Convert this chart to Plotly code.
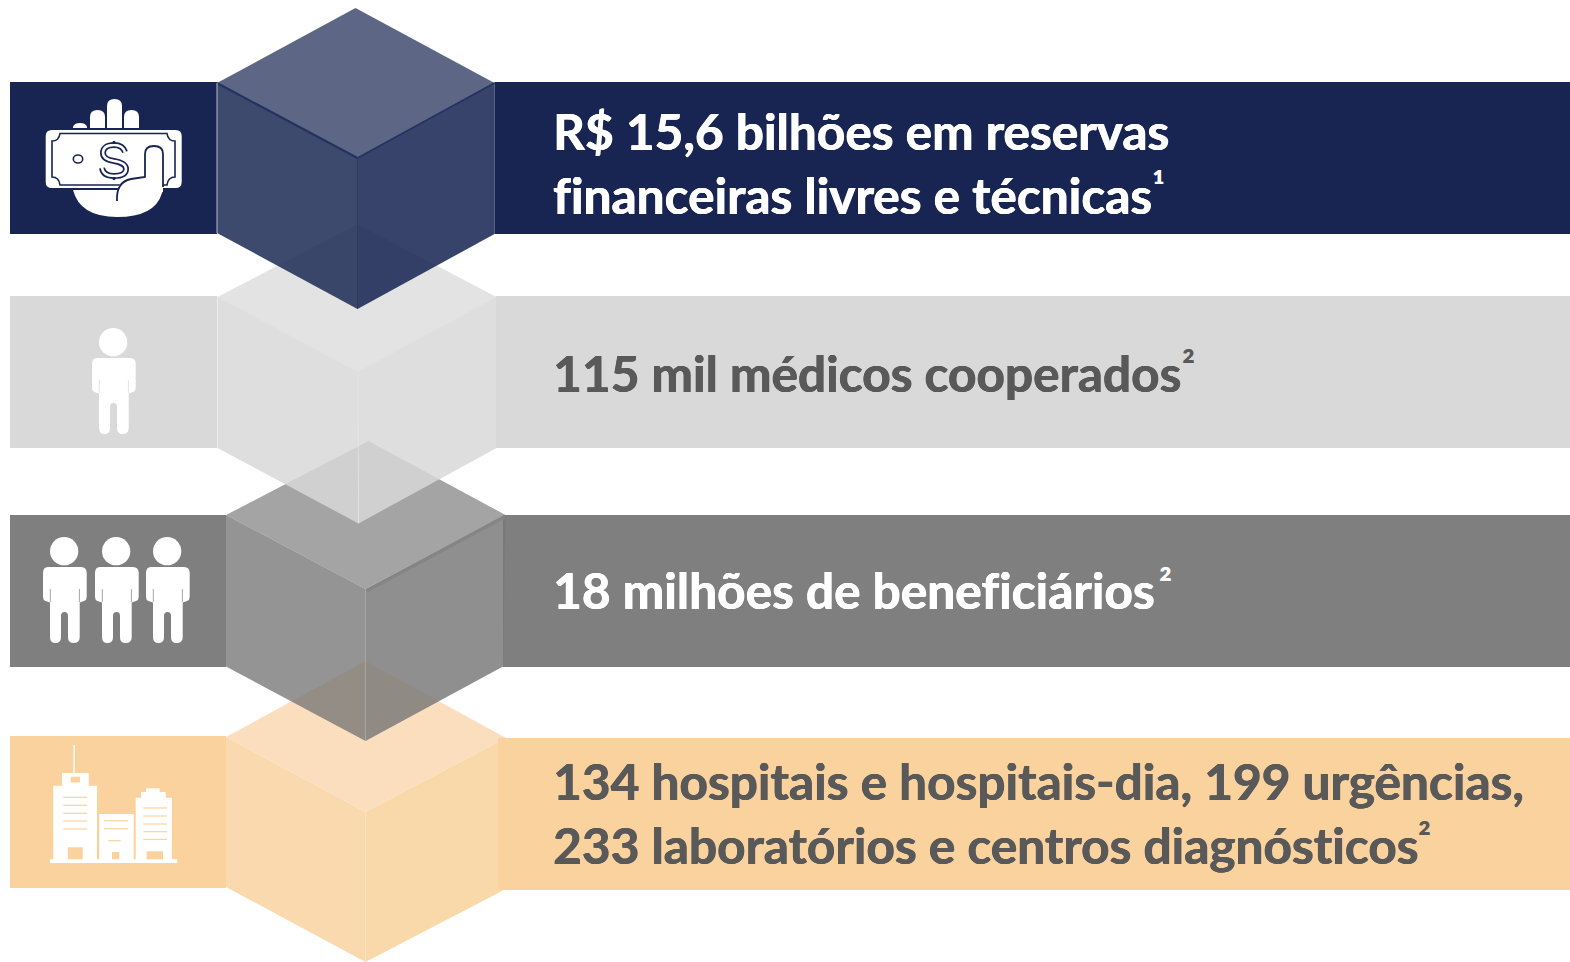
import plotly.graph_objects as go

# ---------- content ----------
TEXT_LINES = ["R$ 15,6 bilhões em reservas", "financeiras livres e técnicas",
              "115 mil médicos cooperados", "18 milhões de beneficiários",
              "134 hospitais e hospitais-dia, 199 urgências,",
              "233 laboratórios e centros diagnósticos"]
TEXT_BASELINES = [151, 215, 393, 610, 801, 865]
TEXT_COLORS = ["#ffffff", "#ffffff", "#595959", "#ffffff", "#595959", "#595959"]
NOTE_GLYPHS = ["¹", "²", "²", "²"]
NOTE_X = [1158, 1188, 1165, 1424]
NOTE_Y = [187, 366, 584, 838]
NOTE_COLORS = ["#ffffff", "#595959", "#ffffff", "#595959"]

# ---------- bars (x0, x1, y0, y1, colour) ----------
NAVY, LIGHT, GREY, PEACH = "#182552", "#d9d9d9", "#7f7f7f", "#fad29d"
BARS_LEFT = [(10, 217, 82, 234, NAVY), (10, 217, 296, 448, LIGHT),
             (10, 226, 515, 667, GREY), (10, 226, 736, 888, PEACH)]
BARS_RIGHT = [(494.5, 1570, 82, 234, NAVY), (496, 1570, 296, 448, LIGHT),
              (503, 1570, 515, 667, GREY), (498, 1570, 738, 890, PEACH)]

# ---------- cubes: apex, left, right, centre, bottom, left-bottom, right-bottom ----------
CUBE_NAVY = dict(a=(355.5, 8), l=(217, 83), r=(494.5, 83), c=(357.5, 158), b=(357.5, 309), lb=(217, 233), rb=(494.5, 234))
CUBE_LIGHT = dict(a=(357.5, 224), l=(217.5, 297), r=(496.5, 297), c=(358, 372), b=(358.5, 523.5), lb=(217.5, 448), rb=(496.5, 448))
CUBE_GREY = dict(a=(368.5, 441), l=(226, 515), r=(505.5, 515), c=(365.5, 589), b=(365.5, 741), lb=(226, 666.5), rb=(503, 666.5))
CUBE_PEACH = dict(a=(365.5, 661), l=(226, 737), r=(506, 738), c=(365.5, 812), b=(365.5, 962), lb=(226, 887), rb=(502, 891))

fig = go.Figure()


def poly(points, color):
    xs = [p[0] for p in points] + [points[0][0]]
    ys = [p[1] for p in points] + [points[0][1]]
    fig.add_trace(go.Scatter(x=xs, y=ys, mode="lines", fill="toself", fillcolor=color,
                             line=dict(width=0), hoverinfo="skip", showlegend=False))


def seg(p, q, color, width):
    fig.add_trace(go.Scatter(x=[p[0], q[0]], y=[p[1], q[1]], mode="lines",
                             line=dict(color=color, width=width), hoverinfo="skip", showlegend=False))


def bar(b):
    poly([(b[0], b[2]), (b[1], b[2]), (b[1], b[3]), (b[0], b[3])], b[4])


def cube(k, top, left, right):
    poly([k["a"], k["r"], k["c"], k["l"]], top)
    poly([k["l"], k["c"], k["b"], k["lb"]], left)
    poly([k["c"], k["r"], k["rb"], k["b"]], right)


for b in BARS_LEFT + BARS_RIGHT[:3]:
    bar(b)

cube(CUBE_PEACH, "#fbdebd", "#fad9ae", "#f9d8aa")
bar(BARS_RIGHT[3])
cube(CUBE_GREY, "rgba(127,127,127,0.71)", "rgba(118,118,118,0.785)", "rgba(120,120,120,0.83)")
seg(CUBE_GREY["c"], CUBE_GREY["b"], "#a9a6a2", 1)
seg((366.5, 591), (505, 516.5), "#858585", 3.5)
cube(CUBE_LIGHT, "rgba(217,217,217,0.737)", "rgba(216,216,216,0.845)", "rgba(216,216,216,0.845)")
seg(CUBE_LIGHT["l"], CUBE_LIGHT["c"], "#e0e0e0", 1)
seg(CUBE_LIGHT["c"], CUBE_LIGHT["r"], "#e0e0e0", 1)
seg(CUBE_LIGHT["c"], CUBE_LIGHT["b"], "#e3e3e3", 1)
seg(CUBE_LIGHT["l"], CUBE_LIGHT["lb"], "#ececec", 1)
cube(CUBE_NAVY, "rgba(31,44,86,0.72)", "rgba(30,44,85,0.857)", "rgba(22,36,81,0.857)")
seg(CUBE_NAVY["l"], CUBE_NAVY["c"], "#25315f", 2)
seg(CUBE_NAVY["c"], CUBE_NAVY["r"], "#25315f", 1.5)
seg(CUBE_NAVY["c"], CUBE_NAVY["b"], "#2e3a60", 1)
seg(CUBE_NAVY["l"], CUBE_NAVY["lb"], "#b9bdca", 1)

# ---------- icons ----------
shapes = []


def path(d, fill=None, stroke=None, width=0):
    s = dict(type="path", path=d, layer="above", xref="x", yref="y", line=dict(width=width, color=stroke or "rgba(0,0,0,0)"))
    if fill:
        s["fillcolor"] = fill
    shapes.append(s)


def rect(x0, y0, x1, y1, fill):
    shapes.append(dict(type="rect", x0=x0, y0=y0, x1=x1, y1=y1, fillcolor=fill, layer="above", line=dict(width=0)))


def person(dx, dy, bg):
    shapes.append(dict(type="circle", x0=99 + dx, x1=127.3 + dx, y0=328 + dy, y1=356.3 + dy,
                       fillcolor="#ffffff", layer="above", line=dict(width=0)))
    P = [("M", 97, 358), ("L", 130, 358), ("Q", 135.7, 358, 135.7, 364), ("L", 135.7, 388),
         ("Q", 135.7, 391, 133, 392), ("L", 128.7, 393.5), ("L", 128.7, 428), ("Q", 128.7, 434, 122.5, 434),
         ("Q", 117, 434, 117, 428), ("L", 117, 407), ("Q", 117, 403, 113.5, 403), ("Q", 110, 403, 110, 407),
         ("L", 110, 428), ("Q", 110, 434, 104.5, 434), ("Q", 99, 434, 99, 428), ("L", 99, 393.5),
         ("L", 94.5, 392), ("Q", 92, 391, 92, 388), ("L", 92, 364), ("Q", 92, 358, 97, 358)]
    d = ""
    for c in P:
        vals = c[1:]
        out = [v + (dx if i % 2 == 0 else dy) for i, v in enumerate(vals)]
        d += c[0] + " " + " ".join(f"{v:.1f}" for v in out) + " "
    path(d + "Z", fill="#ffffff")
    path(f"M {99.3+dx} {380+dy} L {99.3+dx} {393+dy}", stroke=bg, width=0.7)
    path(f"M {128.4+dx} {380+dy} L {128.4+dx} {393+dy}", stroke=bg, width=0.7)


person(0, 0, LIGHT)
for dx in (-49, 3, 54):
    person(dx, 209, GREY)

W = "#ffffff"
# money: fingers
path("M 73,128 L 73,127 Q 74,123 80,123 Q 86,123 87,127 L 87,128 Z", fill=W)
path("M 90,128 L 90,117 Q 90,110 97.5,110 Q 105,110 105,117 L 105,128 Z", fill=W)
path("M 107,128 L 107,106 Q 107,99 114.5,99 Q 122,99 122,106 L 122,128 Z", fill=W)
path("M 124,128 L 124,117 Q 124,110 131.5,110 Q 139,110 139,117 L 139,128 Z", fill=W)
# bill
path("M 52,130 L 175.5,130 Q 181.7,130 181.7,136 L 181.7,182 Q 181.7,188 175.5,188 L 52,188 Q 45.7,188 45.7,182 L 45.7,136 Q 45.7,130 52,130 Z", fill=W)
path("M 60,133.5 L 167,133.5 Q 168,141 175,141 L 175,177 Q 168,177 167,185 L 60,185 Q 59,177 52,177 L 52,141 Q 59,141 60,133.5 Z", fill=W, stroke=NAVY, width=1.6)
shapes.append(dict(type="circle", x0=73.3, x1=82.7, y0=155, y1=163, fillcolor=W, layer="above", line=dict(color=NAVY, width=1.6)))
# dollar sign
S = "M 125,152 C 123,146 118,145 114,145 C 107,145 103,148 103,153 C 103,158 107,160 114,161 C 121,162 126,165 126,169 C 126,174 121,176 114,176 C 108,176 103,174 102,168"
path(S, stroke=NAVY, width=6)
path(S, stroke=W, width=2.6)
path("M 114,141 L 114,144", stroke=NAVY, width=2.5)
path("M 114,177 L 114,180", stroke=NAVY, width=2.5)
# hand
path("M 73,190 L 163,190 L 162,193 Q 155,217 117,217 Q 80,217 73,190 Z", fill=W)
path("M 118,192 Q 117,181 131,179 L 145,177 L 145,154 Q 145,146 154,146 Q 163,146 163,154 L 163,192 Z", fill=W)
path("M 117,201 Q 116,182 131,179 L 145,177 L 145,154 Q 145,146 154,146 Q 163,146 163,154 L 163,187", stroke=NAVY, width=1.8)

# building
rect(50, 859.3, 177.3, 863, W)
rect(73.4, 745, 74.8, 773, W)
rect(62, 773, 88.7, 786, W)
rect(70.7, 776.7, 80, 782.4, PEACH)
rect(53.3, 785.7, 97, 860, W)
for y in (797.3, 805.3, 813.3, 821, 829):
    rect(63.3, y - 0.6, 87.3, y + 0.6, PEACH)
rect(68, 847.3, 82.7, 859.3, PEACH)
rect(99.3, 814, 133.7, 860, W)
for y in (820.7, 828.7):
    rect(104, y - 0.6, 128.3, y + 0.6, PEACH)
rect(108.3, 840.1, 120.7, 841.3, PEACH)
rect(112, 852, 119.3, 859.3, PEACH)
rect(135.7, 797.7, 172, 860, W)
rect(141, 792, 165.7, 798, W)
rect(146, 788.3, 159.7, 792, W)
for y in (808, 816, 824, 831.7, 839.3):
    rect(143.3, y - 0.6, 167, y + 0.6, PEACH)
rect(146.7, 851.3, 163, 859.3, PEACH)

# ---------- text ----------
annotations = []
FONT = "Lato"
ZW = "\u200c"
for t, y, c in zip(TEXT_LINES, TEXT_BASELINES, TEXT_COLORS):
    shown = t.replace("fi", "f" + ZW + "i").replace("ti", "t" + ZW + "i")
    annotations.append(dict(x=551.5, y=y + 11, text=f"<b>{shown}</b>", xanchor="left", yanchor="bottom", showarrow=False,
                            xref="x", yref="y", borderpad=0,
                            font=dict(family=FONT, size=49.6, color=c, shadow=f"0.6px 0 0 {c}, -0.3px 0 0 {c}")))
for g, x, y, c in zip(NOTE_GLYPHS, NOTE_X, NOTE_Y, NOTE_COLORS):
    annotations.append(dict(x=x, y=y, text=f"<b>{g}</b>", xanchor="center", yanchor="middle", showarrow=False,
                            xref="x", yref="y", borderpad=0, font=dict(family=FONT, size=39, color=c)))

fig.update_layout(width=1570, height=962, margin=dict(l=0, r=0, t=0, b=0),
                  paper_bgcolor="#ffffff", plot_bgcolor="#ffffff", showlegend=False,
                  xaxis=dict(range=[0, 1570], visible=False, fixedrange=True),
                  yaxis=dict(range=[962, 0], visible=False, fixedrange=True),
                  shapes=shapes, annotations=annotations)
fig.write_html("out.html", post_script="document.body.style.margin='0';", config=dict(displayModeBar=False))
